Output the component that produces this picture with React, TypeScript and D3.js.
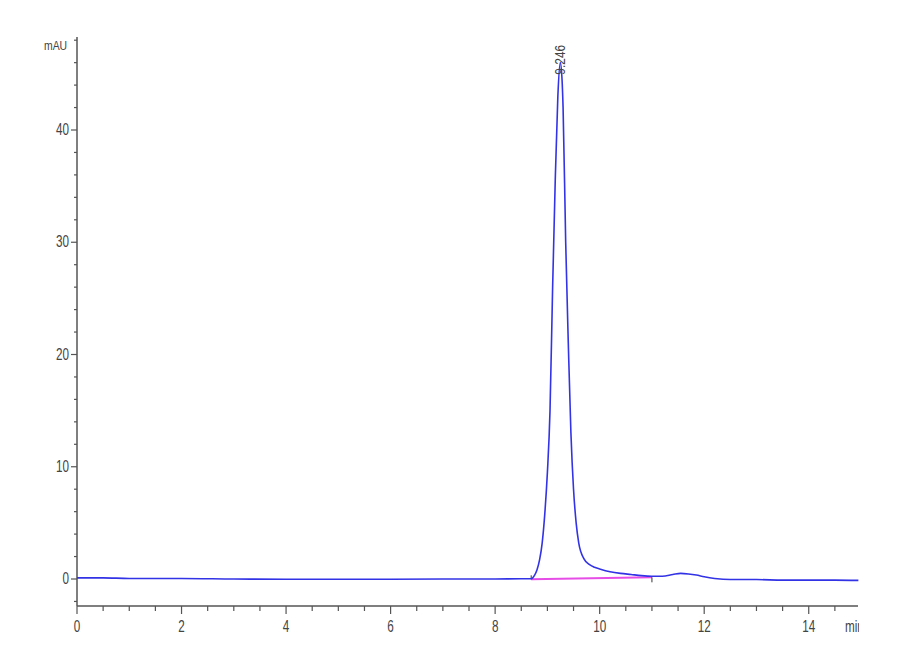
import { useEffect, useRef } from 'react'
import * as d3 from 'd3'

// retention time (min) and absorbance (mAU)
const times = [
  0, 0.5, 1, 2, 3, 4, 5, 6, 7, 8, 8.5, 8.69, 8.75, 8.8, 8.85, 8.9, 8.95, 9.0,
  9.05, 9.1, 9.15, 9.2, 9.246, 9.28, 9.3, 9.35, 9.4, 9.45, 9.5, 9.55, 9.6, 9.7,
  9.8, 9.9, 10.0, 10.2, 10.4, 10.6, 10.8, 11.0, 11.2, 11.4, 11.55, 11.7, 11.85,
  12.0, 12.2, 12.5, 13.0, 13.5, 14.0, 14.5, 14.95,
]
const signal = [
  0.1, 0.1, 0.05, 0.05, 0.0, -0.02, -0.02, -0.02, 0.0, 0.0, 0.02, 0.02, 0.3, 0.8,
  1.7, 3.2, 5.8, 9.5, 15, 26, 35.5, 43, 46, 44.5, 42, 30, 21, 13, 8, 5, 3.2, 1.8,
  1.3, 1.05, 0.9, 0.65, 0.5, 0.4, 0.3, 0.25, 0.25, 0.4, 0.5, 0.45, 0.35, 0.2,
  0.05, -0.05, -0.05, -0.1, -0.1, -0.1, -0.12,
]

// integration baseline of the main peak
const baseTimes = [8.69, 11.0]
const baseValues = [-0.03, 0.15]

const peakTime = 9.246
const peakHeight = 46
const peakLabel = '9.246'

const xTicks = [0, 2, 4, 6, 8, 10, 12, 14]
const yTicks = [0, 10, 20, 30, 40]

export default function App() {
  const svgRef = useRef<SVGSVGElement>(null)
  const width = 900
  const height = 660

  useEffect(() => {
    if (!svgRef.current) return
    const svg = d3.select(svgRef.current)
    svg.selectAll('*').remove()

    const left = 77
    const right = 861
    const bottom = 606

    const x = d3.scaleLinear().domain([0, 15]).range([left, right])
    const y = d3.scaleLinear().domain([0, 40]).range([579, 130])
    const yTop = y.invert(37)

    // no narrow font installed, so squeeze the labels horizontally
    const font = "'Liberation Sans', Arial, sans-serif"
    const squeeze = 'scale(0.78,1.08)'
    const axisColor = '#555'
    const textColor = '#444'

    svg.append('rect').attr('width', width).attr('height', height).attr('fill', '#fff')

    // y axis
    svg
      .append('line')
      .attr('x1', left)
      .attr('x2', left)
      .attr('y1', y(yTop))
      .attr('y2', bottom)
      .attr('stroke', axisColor)
      .attr('stroke-width', 1.5)

    d3.range(-2, yTop, 2).forEach((v) => {
      const major = v % 10 === 0
      svg
        .append('line')
        .attr('x1', left)
        .attr('x2', left - (major ? 6 : 3))
        .attr('y1', y(v))
        .attr('y2', y(v))
        .attr('stroke', axisColor)
        .attr('stroke-width', 1.2)
    })

    svg
      .selectAll('.ylab')
      .data(yTicks)
      .enter()
      .append('text')
      .attr('transform', (d) => `translate(${left - 8},${y(d) + 5}) ${squeeze}`)
      .attr('text-anchor', 'end')
      .style('font-family', font)
      .style('font-size', '15px')
      .style('fill', textColor)
      .text((d) => d)

    svg
      .append('text')
      .attr('transform', `translate(44,50) scale(0.8,1.05)`)
      .style('font-family', font)
      .style('font-size', '13px')
      .style('fill', textColor)
      .text('mAU')

    // x axis
    svg
      .append('line')
      .attr('x1', left)
      .attr('x2', 858)
      .attr('y1', bottom)
      .attr('y2', bottom)
      .attr('stroke', axisColor)
      .attr('stroke-width', 1.5)

    d3.range(0, 15, 0.5).forEach((t) => {
      const major = t % 2 === 0
      svg
        .append('line')
        .attr('x1', x(t))
        .attr('x2', x(t))
        .attr('y1', bottom)
        .attr('y2', bottom + (major ? 8 : 5))
        .attr('stroke', axisColor)
        .attr('stroke-width', 1.2)
    })

    svg
      .selectAll('.xlab')
      .data(xTicks)
      .enter()
      .append('text')
      .attr('transform', (d) => `translate(${x(d)},632) ${squeeze}`)
      .attr('text-anchor', 'middle')
      .style('font-family', font)
      .style('font-size', '15px')
      .style('fill', textColor)
      .text((d) => d)

    svg
      .append('clipPath')
      .attr('id', 'unit-clip')
      .append('rect')
      .attr('x', 830)
      .attr('y', 610)
      .attr('width', 29)
      .attr('height', 30)

    svg
      .append('g')
      .attr('clip-path', 'url(#unit-clip)')
      .append('text')
      .attr('transform', `translate(845,632) ${squeeze}`)
      .style('font-family', font)
      .style('font-size', '15px')
      .style('fill', textColor)
      .text('min')

    // integration baseline
    const baseLine = d3
      .line<number>()
      .x((d, i) => x(baseTimes[i]))
      .y((d) => y(d))
    svg
      .append('path')
      .attr('d', baseLine(baseValues))
      .attr('fill', 'none')
      .attr('stroke', '#e64de6')
      .attr('stroke-width', 2)

    svg
      .append('line')
      .attr('x1', x(baseTimes[0]))
      .attr('x2', x(baseTimes[0]))
      .attr('y1', y(baseValues[0]))
      .attr('y2', y(baseValues[0]) - 4)
      .attr('stroke', '#333')
      .attr('stroke-width', 1)
    svg
      .append('line')
      .attr('x1', x(baseTimes[1]))
      .attr('x2', x(baseTimes[1]))
      .attr('y1', y(baseValues[1]))
      .attr('y2', y(baseValues[1]) + 5)
      .attr('stroke', '#333')
      .attr('stroke-width', 1)

    // chromatogram trace
    const trace = d3
      .line<number>()
      .x((d, i) => x(times[i]))
      .y((d) => y(d))
      .curve(d3.curveMonotoneX)
    svg
      .append('path')
      .attr('d', trace(signal))
      .attr('fill', 'none')
      .attr('stroke', '#3333e6')
      .attr('stroke-width', 1.6)

    // peak label
    svg
      .append('text')
      .attr('transform', `translate(${x(peakTime) + 5},${y(peakHeight) + 12}) rotate(-90) scale(0.85,1.05)`)
      .style('font-family', font)
      .style('font-size', '14px')
      .style('fill', textColor)
      .text(peakLabel)
  }, [])

  return (
    <div style={{ position: 'absolute', left: 0, top: 0 }}>
      <svg ref={svgRef} width={width} height={height} />
    </div>
  )
}
